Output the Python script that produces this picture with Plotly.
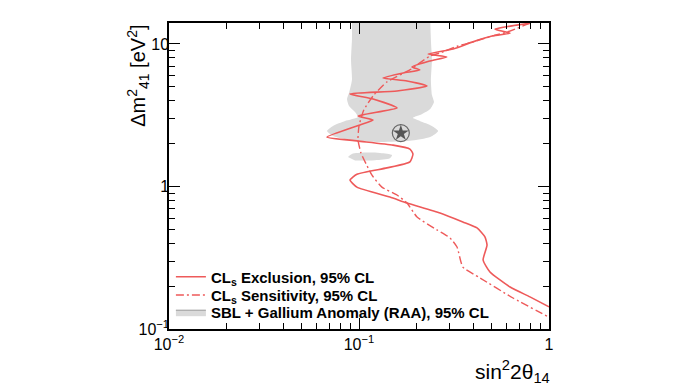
import plotly.graph_objects as go

# CLs exclusion contour (solid)
excl_x = [0.80, 0.638, 0.520, 0.624, 0.507, 0.394, 0.313, 0.231, 0.290, 0.237, 0.190, 0.209, 0.171,
          0.1336, 0.179, 0.228, 0.1585, 0.0897, 0.1186, 0.1585, 0.0988, 0.1186, 0.1012, 0.0679, 0.0975,
          0.151, 0.1854, 0.1923, 0.1854, 0.1402, 0.0975, 0.0897, 0.0975, 0.1455, 0.179, 0.267, 0.352,
          0.418, 0.460, 0.472, 0.450, 0.489, 0.624, 0.794, 1.0]
excl_y = [14.0, 13.4, 12.7, 11.9, 11.4, 10.3, 9.22, 8.51, 8.11, 7.60, 6.90, 6.57, 6.26,
          5.77, 5.50, 5.07, 4.68, 4.46, 4.11, 3.56, 3.12, 2.93, 2.70, 2.22, 2.09,
          1.95, 1.83, 1.69, 1.49, 1.35, 1.22, 1.11, 0.99, 0.843, 0.765, 0.652, 0.564,
          0.512, 0.443, 0.388, 0.305, 0.251, 0.197, 0.168, 0.143]

# CLs sensitivity contour (dash-dot)
sens_x = [0.794, 0.601, 0.507, 0.384, 0.332, 0.267, 0.237, 0.209, 0.185, 0.140, 0.1186, 0.106,
          0.100, 0.0988, 0.1024, 0.109, 0.117, 0.132, 0.1585, 0.179, 0.202, 0.257, 0.301, 0.328,
          0.352, 0.434, 0.6465, 1.0]
sens_y = [14.0, 12.1, 11.4, 10.2, 9.68, 8.65, 8.24, 7.36, 6.57, 5.41, 4.32, 3.44,
          2.66, 2.12, 1.72, 1.44, 1.20, 0.99, 0.871, 0.765, 0.611, 0.496, 0.436, 0.376,
          0.272, 0.228, 0.165, 0.121]

# SBL + Gallium anomaly allowed region (main band + lobe)
sbl_x = [0.0918, 0.0918, 0.0908, 0.0918, 0.0886, 0.0865, 0.0886, 0.0953, 0.0988, 0.0844, 0.0729,
         0.0679, 0.0729, 0.0897, 0.129, 0.185, 0.237, 0.261, 0.242, 0.209, 0.192, 0.215, 0.237,
         0.248, 0.242, 0.239, 0.242, 0.239, 0.237]
sbl_y = [15.0, 10.7, 7.72, 5.59, 4.53, 4.11, 3.67, 3.33, 3.07, 2.88, 2.66,
         2.45, 2.26, 2.12, 2.05, 2.09, 2.22, 2.45, 2.66, 2.88, 3.03, 3.23, 3.50,
         3.92, 4.39, 5.59, 7.72, 10.7, 15.0]

# SBL + Gallium small island
isl_x = [0.0875, 0.0918, 0.1075, 0.129, 0.1492, 0.1455, 0.1213, 0.0953]
isl_y = [1.61, 1.69, 1.73, 1.72, 1.66, 1.58, 1.53, 1.52]

# best fit point
best_x = [0.166]
best_y = [2.37]

x_tickvals = [0.01, 0.1, 1]
x_ticktext = ["10<sup>\u22122</sup>", "10<sup>\u22121</sup>", "1"]
y_tickvals = [0.1, 1, 10]
y_ticktext = ["10<sup>\u22121</sup>", "1", "10"]

RED = "#ee5a5a"
GRAY = "#dadada"
FONT = "Liberation Sans, Arial, sans-serif"

fig = go.Figure()

fig.add_trace(go.Scatter(x=sbl_x, y=sbl_y, mode="lines", fill="toself", fillcolor=GRAY,
                         line=dict(width=0, color=GRAY, shape="spline", smoothing=0.6),
                         showlegend=False, hoverinfo="skip"))
fig.add_trace(go.Scatter(x=isl_x, y=isl_y, mode="lines", fill="toself", fillcolor=GRAY,
                         line=dict(width=0, color=GRAY, shape="spline", smoothing=0.8),
                         showlegend=False, hoverinfo="skip"))

fig.add_trace(go.Scatter(x=excl_x, y=excl_y, mode="lines",
                         line=dict(color=RED, width=1.6, shape="spline", smoothing=0.5),
                         name="<b>CL<sub>s</sub> Exclusion, 95% CL</b>", legend="legend"))
fig.add_trace(go.Scatter(x=sens_x, y=sens_y, mode="lines",
                         line=dict(color=RED, width=1.4, dash="8px,3px,2px,3px", shape="spline", smoothing=0.5),
                         name="<b>CL<sub>s</sub> Sensitivity, 95% CL</b>", legend="legend2"))
fig.add_trace(go.Scatter(x=[None], y=[None], mode="lines", fill="toself", fillcolor=GRAY,
                         line=dict(width=1, color="#999999"),
                         name="<b>SBL + Gallium Anomaly (RAA), 95% CL</b>", legend="legend3"))

fig.add_trace(go.Scatter(x=best_x, y=best_y, mode="markers",
                         marker=dict(symbol="circle-open", size=17, color="#666666", line=dict(width=1.2)),
                         showlegend=False))
fig.add_trace(go.Scatter(x=best_x, y=best_y, mode="markers",
                         marker=dict(symbol="star", size=12, color="#555555", line=dict(width=0)),
                         showlegend=False))

minor_x = [m * 10.0 ** e for e in (-2, -1) for m in range(2, 10)]
minor_y = [m * 10.0 ** e for e in (-1, 0, 1) for m in range(2, 10)]

axis_common = dict(showline=True, linecolor="black", linewidth=1.5, mirror="allticks",
                   ticks="inside", ticklen=11, tickwidth=1, tickcolor="black",
                   showgrid=False, zeroline=False,
                   tickfont=dict(family=FONT, size=16, color="black"))

fig.update_xaxes(type="log", range=[-2, 0], tickmode="array", tickvals=x_tickvals, ticktext=x_ticktext,
                 minor=dict(tickmode="array", tickvals=minor_x, ticks="inside", ticklen=6,
                            tickcolor="black", showgrid=False),
                 **axis_common)
fig.update_yaxes(type="log", range=[-1, 1.147], tickmode="array", tickvals=y_tickvals, ticktext=y_ticktext,
                 minor=dict(tickmode="array", tickvals=minor_y, ticks="inside", ticklen=6,
                            tickcolor="black", showgrid=False),
                 ticklabelstandoff=-5,
                 **axis_common)

fig.add_annotation(text="\u0394m<sup>2</sup><sub>41</sub> [eV<sup>2</sup>]", xref="paper", yref="paper",
                   x=-0.082, y=1.0, xanchor="center", yanchor="top", textangle=-90, showarrow=False,
                   font=dict(family=FONT, size=20, color="black"))
fig.add_annotation(text="sin<sup>2</sup>2\u03b8<sub>14</sub>", xref="paper", yref="paper",
                   x=1.008, y=-0.086, xanchor="right", yanchor="top", showarrow=False,
                   font=dict(family=FONT, size=21, color="black"))

leg_common = dict(x=0.005, xanchor="left", yanchor="top", bgcolor="rgba(0,0,0,0)",
                  font=dict(family=FONT, size=15, color="black"))

# page body has an 8px default margin, so margins are shifted to keep the frame at the reference spot
fig.update_layout(
    width=696, height=385,
    margin=dict(l=161, r=155, t=15, b=64),
    paper_bgcolor="white", plot_bgcolor="white",
    legend=dict(y=0.224, **leg_common),
    legend2=dict(y=0.164, **leg_common),
    legend3=dict(y=0.108, **leg_common),
    font=dict(family=FONT),
)

fig.write_html("out.html")
